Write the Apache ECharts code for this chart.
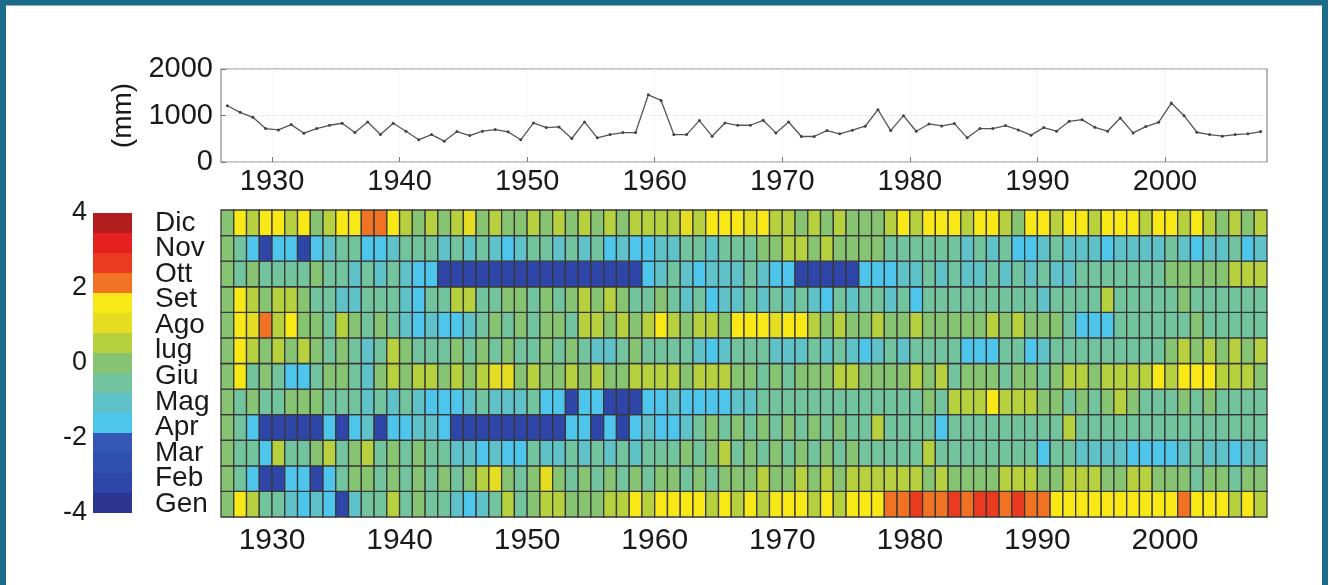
<!DOCTYPE html>
<html><head><meta charset="utf-8">
<script src="https://cdn.jsdelivr.net/npm/echarts@6/dist/echarts.min.js"></script>
<style>html,body{margin:0;padding:0;background:#fff}#c{width:1329px;height:585px}</style>
</head><body><div id="c"></div>
<script>
const firstYear = 1926, lastYear = 2007;
const years = [];
for (let y = firstYear; y <= lastYear; y++) years.push(y);
const months = ['Gen','Feb','Mar','Apr','Mag','Giu','lug','Ago','Set','Ott','Nov','Dic'];
const yearTicks = [1930, 1940, 1950, 1960, 1970, 1980, 1990, 2000];
const precipTicks = [0, 1000, 2000];
const colorbarTicks = [-4, -2, 0, 2, 4];

// annual precipitation (mm), 1926..2007
const precipitation = [
  1210,1068,960,719,690,804,619,719,790,833,
  633,861,590,833,662,477,590,448,655,569,
  662,697,648,477,840,740,754,505,861,520,
  590,633,633,1445,1324,590,590,890,555,840,
  790,790,897,626,861,548,548,676,605,683,
  769,1125,676,996,662,818,776,826,520,719,
  719,783,690,577,740,662,875,911,747,662,
  947,626,762,854,1267,996,640,590,555,590,
  605,655
];

// monthly anomaly, 1926..2007
const gen = [
  0,1.6,0.5,-0.5,-0.5,-1.1,-1.6,-1.1,-1.6,-3.2,-1.1,-0.5,-0.5,0.5,-0.5,0.1,
  -0.5,-0.5,-1.1,-1.6,-1.1,-0.5,0.5,-0.5,0.1,0.5,0.5,0,0,0,0.5,0.5,1.6,
  0.5,1.6,1.6,1.6,1.6,0.5,1.6,0.5,1.6,0.5,1.6,1.6,1.6,0.5,1.6,0.5,1.6,
  1.6,1.6,2.1,2.1,2.7,2.1,2.1,2.7,2.1,2.7,2.7,2.1,2.7,2.1,2.1,1.6,
  1.6,1.6,1.6,1.6,1.6,1.6,1.6,1.6,1.6,2.1,1.6,1.6,1.6,0.5,1.6,0.5
];
const feb = [
  0,-0.5,-1.6,-3.2,-3.2,-1.6,-1.6,-3.2,-1.6,-0.5,0,0,-0.5,0,-0.5,0,
  -0.5,0,-0.5,0,0.5,1.1,0,-0.5,0,1.1,0,-0.5,0,-0.5,0,-0.5,0,
  -0.5,0,0,-0.5,0,-0.5,0,0,0,0.5,0,0,0.5,0,0.5,0,0.5,
  0.5,0.5,0.5,0.5,0.5,0,0.5,0,0,0,0,0.5,0.5,0.5,0,0,
  0.5,0.5,0.5,0,0,0.5,0.5,0,0,0,-0.5,0,0,-0.5,0,0
];
const mar = [
  0,-0.5,-0.5,-1.6,0.5,-0.5,-0.5,0,0.5,-0.5,0,0.5,-0.5,0,-0.5,0,
  -0.5,-0.5,-1.1,-1.1,-1.6,-1.1,-1.6,-1.6,-0.5,-1.1,-1.1,-0.5,-1.1,-0.5,-1.1,-0.5,-1.1,
  -0.5,-0.5,-0.5,0,-0.5,0,0.5,-0.5,0,-0.5,0,-0.5,0,-0.5,0,-0.5,0,
  -0.5,-0.5,-0.5,-0.5,-0.5,0.5,-0.5,-0.5,-0.5,-0.5,-0.5,-0.5,-0.5,-0.5,-1.6,-0.5,
  -0.5,-1.1,-1.1,-1.1,-1.1,-1.6,-1.6,-1.6,-1.6,-1.1,-0.5,-1.1,-1.1,-1.6,-1.1,-1.1
];
const apr = [
  0,-0.5,-1.6,-3.2,-3.2,-3.2,-3.2,-3.2,-1.6,-3.2,-1.6,-1.1,-3.2,-1.6,-1.6,-1.1,
  -1.1,-1.6,-3.2,-3.2,-3.2,-3.2,-3.2,-3.2,-3.2,-3.2,-3.2,-1.6,-1.6,-3.2,-1.6,-3.2,-1.6,
  -1.1,-1.6,-1.6,-1.1,-0.5,0,-0.5,0,-0.5,0,-0.5,0,-0.5,0,-0.5,0,-0.5,
  -0.5,0.5,-0.5,-0.5,-0.5,-0.5,-1.6,-0.5,-0.5,-0.5,-0.5,-0.5,-0.5,-0.5,-0.5,-0.5,
  0.5,-0.5,-0.5,-0.5,-0.5,-0.5,-0.5,-0.5,-0.5,-0.5,-0.5,-0.5,-0.5,-0.5,-0.5,-0.5
];
const mag = [
  0,-0.5,0,-0.5,-0.5,0.1,0,0,-0.5,-0.5,-0.5,-1.1,-0.5,-1.1,-0.5,-1.1,
  -1.6,-1.6,-1.6,-1.1,-0.5,-1.1,-1.1,-1.1,-0.5,-1.6,-1.6,-3.2,-1.6,-1.6,-3.2,-3.2,-3.2,
  -1.6,-1.6,-1.1,-1.6,-1.6,-1.6,-1.6,-1.1,-1.1,-0.5,-0.5,-0.5,-0.5,-0.5,-0.5,-0.5,-0.5,
  -0.5,-0.5,-0.5,-0.5,-0.5,0,-0.5,0.5,0.5,0.5,1.6,0.5,0.5,0.5,0,0,
  -0.5,0,-0.5,0,0.5,0,-0.5,-0.5,-0.5,0,-0.5,0,-0.5,-0.5,-0.5,-0.5
];
const giu = [
  0,1.6,-0.5,0,-0.5,-1.6,-1.6,-0.5,0.1,0,-0.5,-1.1,0,0.5,0,0.5,
  0.5,0,0.5,0,0.5,1.1,1.1,0,0.5,0,0,0.5,0,0.5,0,0,0.5,
  0.5,0.5,0.5,0,0.5,0.5,0.5,0,0,-0.5,0,-0.5,0,0,0,0.5,0.5,
  0,0,0,0,0.5,0,0.5,-0.5,0,0,0,-0.5,0,0,-0.5,0,
  0.5,0.5,0,0.5,0.5,0.5,0.5,1.6,0.5,1.6,1.6,1.6,0.5,0.5,0.5,0
];
const lug = [
  0.1,1.6,0.5,0,0.5,0.1,0.5,0,-0.5,0,-0.5,-1.1,-0.5,0.5,0,-0.5,
  -0.5,-0.5,0,-0.5,0,-0.5,0,-0.5,-0.5,0,-0.5,0,-0.5,-1.1,-1.1,-0.5,0,
  -0.5,-0.5,-0.5,-0.5,-1.1,-1.6,-1.1,-0.5,-0.5,-0.5,-1.1,-1.1,-1.1,-0.5,-1.1,-0.5,-1.1,
  -1.6,-1.1,-0.5,-1.1,-0.5,-0.5,-0.5,-0.5,-1.6,-1.6,-1.6,-0.5,-0.5,-1.6,-1.1,-0.5,
  -0.5,-0.5,-0.5,-0.5,-0.5,-0.5,-0.5,-0.5,0,0.5,0,0.5,0,0.5,0,0.5
];
const ago = [
  0.1,1.6,1.1,2.1,0.5,1.6,0,0,-0.5,0.5,0,-0.5,0,-0.5,-1.1,-1.6,
  -1.1,-1.6,-1.6,-1.1,-0.5,0,-0.5,0,-0.5,0,0,-0.5,0.5,0.5,0,0.5,0,
  0.5,1.6,0.5,0,0.5,0.5,0,1.6,1.6,1.6,1.1,1.6,1.6,0.5,0,0.5,0.1,
  0,0.5,0,0,0.5,0,0,0,0,0,0.5,0,0.5,0,0,0,
  -0.5,-1.6,-1.6,-1.6,-0.5,-0.5,-0.5,-0.5,-0.5,-0.5,0,-0.5,-0.5,-0.5,-0.5,-0.5
];
const set = [
  0,1.6,0.5,0,0.5,0.5,0.1,-0.5,-0.5,-1.1,-1.1,-0.5,-0.5,-0.5,-1.1,-1.6,
  -0.5,-0.5,0.5,0.5,-0.5,-0.5,0,0,-0.5,0,-0.5,0,0.5,0,0.5,0,-0.5,
  -0.5,0,-0.5,-1.1,-0.5,-1.6,-1.1,-1.1,-0.5,-1.1,-0.5,-1.1,-0.5,-1.1,-1.6,-0.5,-1.1,
  -0.5,-0.5,-1.1,-0.5,-1.6,-0.5,-0.5,-0.5,-0.5,-0.5,-0.5,-0.5,-0.5,-0.5,-1.1,-0.5,
  -0.5,-0.5,-0.5,0.5,-0.5,-0.5,-0.5,-0.5,-0.5,0,-0.5,-0.5,-0.5,-0.5,-0.5,-0.5
];
const ott = [
  0,-0.5,0,-0.5,-0.5,-0.5,-0.5,0.1,-0.5,-0.5,-1.1,-0.5,-1.1,-0.5,-1.1,-1.6,
  -1.6,-3.2,-3.2,-3.2,-3.2,-3.2,-3.2,-3.2,-3.2,-3.2,-3.2,-3.2,-3.2,-3.2,-3.2,-3.2,-3.2,
  -1.6,-1.1,-0.5,-1.1,-1.6,-1.1,-1.1,-1.1,-0.5,-1.1,-1.6,-1.6,-3.2,-3.2,-3.2,-3.2,-3.2,
  -1.6,-1.6,-1.6,-1.1,-1.1,-0.5,-1.1,-0.5,-1.1,-1.1,-0.5,-1.1,-0.5,-1.1,-0.5,-1.1,
  -1.1,-0.5,-0.5,-0.5,-0.5,-0.5,-0.5,-0.5,0,0.1,0,0,0,0.5,0.5,0.5
];
const nov = [
  0,-0.5,-1.6,-3.2,-1.6,-1.6,-3.2,-1.6,-1.1,-0.5,-0.5,-1.6,-1.6,-1.1,-0.5,-0.5,
  -0.5,-1.1,-0.5,-1.1,-0.5,-1.1,-1.6,-1.1,-0.5,-0.5,-1.1,-0.5,-1.1,-0.5,-1.6,-1.1,-1.6,
  -1.6,-1.1,-1.1,-0.5,-0.5,-1.1,-0.5,-0.5,-0.5,0,0,0.5,0.5,0,0.5,0,0,
  0,0,-0.5,-0.5,-0.5,-0.5,-0.5,-0.5,-1.1,-0.5,-1.1,-0.5,-1.6,-1.6,-1.1,-0.5,
  -1.1,-1.1,-1.1,-1.6,-1.1,-1.1,-1.1,-1.1,-0.5,-1.1,-1.6,-1.1,-1.1,-0.5,-1.6,-1.1
];
const dic = [
  0.1,1.6,0.5,1.6,1.6,0.5,1.6,0,0.5,1.6,1.6,2.1,2.1,1.6,0.5,0,
  0.5,0,0.5,1.1,0,0.5,0,0,0.5,0,0.5,0,0.5,0,0.5,0,0.5,
  0.5,0.5,0.5,1.1,0.5,1.6,1.6,1.6,1.1,1.6,0.5,0.5,0,0.5,0,0.5,0,
  0,0,0.5,1.6,0.5,1.6,1.6,1.6,0.5,1.6,1.6,0.5,0,1.6,1.6,0.5,
  1.6,1.6,0.5,1.6,1.6,1.6,0.5,1.6,1.6,0.5,1.6,0.5,0,0.5,0,0.5
];
const anomalyByMonth = [gen, feb, mar, apr, mag, giu, lug, ago, set, ott, nov, dic];

// 15 colour levels between -4 and 4 (bottom to top)
const levelColors = ['#2b3590','#2e46a8','#3050b0','#3358b6','#4ec6ec','#5ec2c8','#72c49e',
  '#86c472','#b6d03e','#e4dd22','#f8e816','#f07222','#ea3a20','#e6201e','#b21e1e'];

const nLev = levelColors.length, vMin = -4, vMax = 4, step = (vMax - vMin) / nLev;
const pieces = levelColors.map((c, i) => ({ gte: vMin + i * step, lt: vMin + (i + 1) * step + (i === nLev - 1 ? 0.001 : 0), color: c }));
const colorbarData = levelColors.map((c, i) => [vMin + i * step, vMin + (i + 1) * step, vMin + (i + 0.5) * step]);

const heatData = [];
anomalyByMonth.forEach((row, m) => row.forEach((v, i) => heatData.push([years[i], m, v])));
const lineData = precipitation.map((v, i) => [years[i] + 0.5, v]);

const FONT = 'Liberation Sans, Arial, sans-serif';
const plain = v => String(v);
const chart = echarts.init(document.getElementById('c'));
chart.setOption({
  animation: false,
  backgroundColor: '#ffffff',
  graphic: [{ type: 'rect', z: 100, shape: { x: 3, y: 2.5, width: 1322, height: 640 },
    style: { fill: 'none', stroke: '#1b6b8a', lineWidth: 6 } }],
  visualMap: [{ type: 'piecewise', show: false, dimension: 2, seriesIndex: [1, 2], pieces: pieces }],
  grid: [
    { left: 221, top: 69, width: 1046, height: 93, show: true, borderColor: '#8a8a8a', borderWidth: 1.2 },
    { left: 221, top: 210, width: 1046, height: 307 },
    { left: 93, top: 213, width: 39, height: 300 }
  ],
  xAxis: [
    { gridIndex: 0, type: 'value', min: firstYear, max: lastYear + 1,
      axisLine: { show: false },
      axisTick: { show: true, inside: true, length: 5, customValues: yearTicks, lineStyle: { color: '#777' } },
      axisLabel: { customValues: yearTicks, formatter: plain, fontSize: 29, color: '#1a1a1a', fontFamily: FONT, margin: 5 },
      splitLine: { show: true, lineStyle: { color: '#ececec', type: 'dotted' } } },
    { gridIndex: 1, type: 'value', min: firstYear, max: lastYear + 1,
      axisLine: { show: false }, axisTick: { show: false },
      axisLabel: { customValues: yearTicks, formatter: plain, fontSize: 30, color: '#1a1a1a', fontFamily: FONT, margin: 9 },
      splitLine: { show: false } },
    { gridIndex: 2, type: 'value', min: 0, max: 1, show: false }
  ],
  yAxis: [
    { gridIndex: 0, type: 'value', min: 0, max: 2000, interval: 1000,
      name: '(mm)', nameLocation: 'middle', nameRotate: 90, nameGap: 74,
      nameTextStyle: { fontSize: 28, color: '#1a1a1a', fontFamily: FONT },
      axisLine: { show: false },
      axisTick: { show: true, inside: true, length: 5, lineStyle: { color: '#777' } },
      axisLabel: { formatter: plain, fontSize: 29, color: '#1a1a1a', fontFamily: FONT, margin: 8 },
      splitLine: { show: true, lineStyle: { color: '#e4e4e4', type: 'dotted' } } },
    { gridIndex: 1, type: 'value', min: 0, max: 12, show: false },
    { gridIndex: 2, type: 'value', min: vMin, max: vMax,
      axisLine: { show: false }, axisTick: { show: false }, splitLine: { show: false },
      axisLabel: { customValues: colorbarTicks, formatter: plain, showMinLabel: true, showMaxLabel: true,
        fontSize: 27, color: '#1a1a1a', fontFamily: FONT, margin: 6 } },
    { gridIndex: 1, type: 'category', data: months, position: 'left',
      axisLine: { show: false }, axisTick: { show: false }, splitLine: { show: false },
      axisLabel: { interval: 0, align: 'left', margin: 66, fontSize: 28, lineHeight: 20,
        color: '#1a1a1a', fontFamily: FONT } }
  ],
  series: [
    { type: 'line', xAxisIndex: 0, yAxisIndex: 0, data: lineData,
      lineStyle: { color: '#555', width: 1.3 }, symbol: 'circle', symbolSize: 3,
      itemStyle: { color: '#444' } },
    { type: 'custom', xAxisIndex: 1, yAxisIndex: 1, data: heatData,
      renderItem: (params, api) => {
        const a = api.coord([api.value(0), api.value(1) + 1]);
        const b = api.coord([api.value(0) + 1, api.value(1)]);
        return { type: 'rect', shape: { x: a[0], y: a[1], width: b[0] - a[0], height: b[1] - a[1] },
          style: { fill: api.visual('color'), stroke: '#383838', lineWidth: 1.3 } };
      } },
    { type: 'custom', xAxisIndex: 2, yAxisIndex: 2, data: colorbarData,
      renderItem: (params, api) => {
        const a = api.coord([0, api.value(1)]);
        const b = api.coord([1, api.value(0)]);
        return { type: 'rect', shape: { x: a[0], y: a[1], width: b[0] - a[0], height: b[1] - a[1] },
          style: { fill: api.visual('color') } };
      } }
  ]
});
</script></body></html>
